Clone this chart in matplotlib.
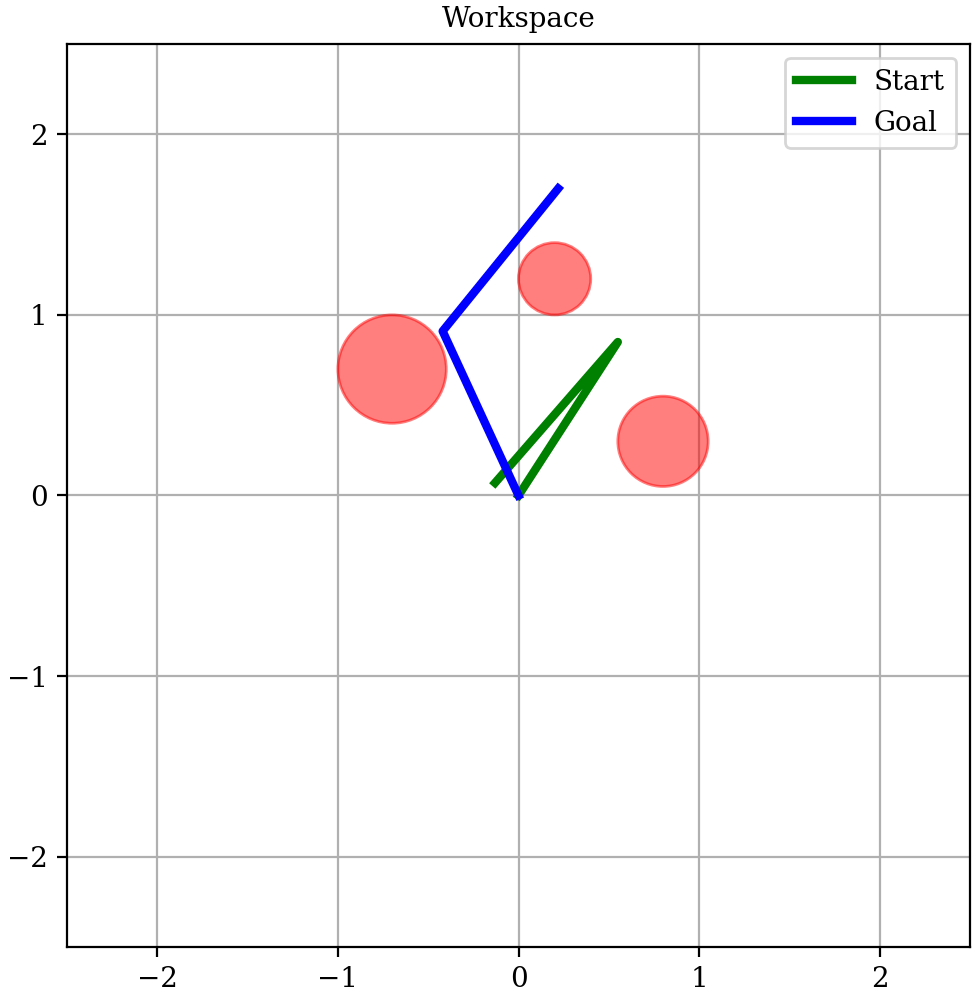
import matplotlib
matplotlib.use("Agg")
import matplotlib.pyplot as plt
from matplotlib.patches import Circle

plt.rcParams['font.family'] = ['DejaVu Serif']

start_x = [0.0, 0.55, -0.13]
start_y = [0.0, 0.85, 0.07]
goal_x = [0.0, -0.42, 0.22]
goal_y = [0.0, 0.91, 1.70]
obs_x = [-0.7, 0.2, 0.8]
obs_y = [0.7, 1.2, 0.3]
obs_r = [0.3, 0.2, 0.25]

fig = plt.figure(figsize=(4.875, 5), dpi=200)
ax = fig.add_axes([67/975, 53/1000, 903/975, 903/1000])
for x, y, r in zip(obs_x, obs_y, obs_r):
    ax.add_patch(Circle((x, y), r, color='red', alpha=0.5))
ax.plot(start_x, start_y, color='green', lw=3, label='Start')
ax.plot(goal_x, goal_y, color='blue', lw=3, label='Goal')
ax.set_xlim(-2.5, 2.5)
ax.set_ylim(-2.5, 2.5)
ax.set_aspect('equal')
ax.grid(True)
ax.set_axisbelow(True)
ax.set_title('Workspace', fontsize=10)
ax.tick_params(labelsize=10)
ax.legend(loc='upper right', fontsize=10)
fig.savefig('out.png', dpi=200)
